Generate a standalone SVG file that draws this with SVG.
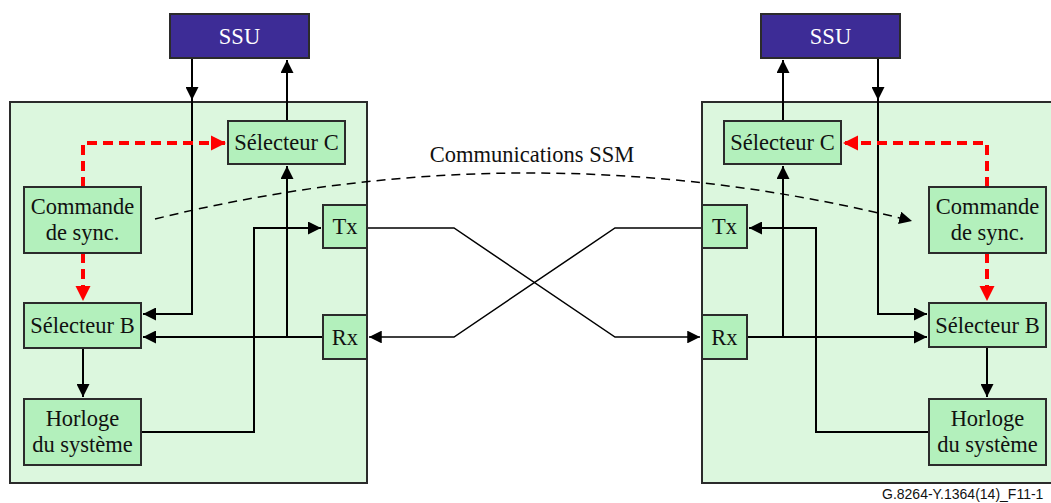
<svg xmlns="http://www.w3.org/2000/svg" width="1051" height="503" viewBox="0 0 1051 503">
<defs>
<style>
.outer{fill:#dcf7de;stroke:#2b2b2b;stroke-width:2}
.box{fill:#b3f0bc;stroke:#2b2b2b;stroke-width:2}
.ssu{fill:#3d2c96;stroke:#2b2b2b;stroke-width:2}
.t{font-family:'Liberation Serif','Times New Roman',serif;font-size:22.5px;fill:#111;text-anchor:middle}
.tw{fill:#ffffff}
.ln{fill:none;stroke:#000;stroke-width:2}
.thin{fill:none;stroke:#000;stroke-width:1.5}
.red{fill:none;stroke:#ff0000;stroke-width:4;stroke-dasharray:10,6}
.dash{fill:none;stroke:#000;stroke-width:1.5;stroke-dasharray:9,6}
.foot{font-family:'Liberation Sans',Arial,sans-serif;font-size:14px;fill:#111}
</style>
<marker id="ah" viewBox="0 0 10 10" refX="10" refY="5" markerWidth="6.5" markerHeight="6.5" orient="auto" markerUnits="strokeWidth"><path d="M0,0 L10,5 L0,10 z" fill="#000"/></marker>
<marker id="ahs" viewBox="0 0 10 10" refX="10" refY="5" markerWidth="8.5" markerHeight="8.5" orient="auto" markerUnits="strokeWidth"><path d="M0,0 L10,5 L0,10 z" fill="#000"/></marker>
<marker id="ahr" viewBox="0 0 10 10" refX="10" refY="5" markerWidth="3.8" markerHeight="3.8" orient="auto" markerUnits="strokeWidth"><path d="M0,0 L10,5 L0,10 z" fill="#ff0000"/></marker>
</defs>

<g id="equip-left"><rect class="outer" x="10" y="102" width="357" height="381"/></g>
<g id="equip-right"><rect class="outer" x="702" y="102" width="360" height="381"/></g>

<g id="connectors">
<path class="ln" d="M192,58 V100" marker-end="url(#ah)"/>
<path class="ln" d="M192,100 V314 H143" marker-end="url(#ah)"/>
<path class="ln" d="M287,121 V60" marker-end="url(#ah)"/>
<path class="ln" d="M287,337 V166" marker-end="url(#ah)"/>
<path class="ln" d="M323,337 H143" marker-end="url(#ah)"/>
<path class="ln" d="M141,432 H254 V228 H321" marker-end="url(#ah)"/>
<path class="ln" d="M83,348 V397" marker-end="url(#ah)"/>
<path class="red" d="M83,187 V143 H226" marker-end="url(#ahr)"/>
<path class="red" d="M83,253 V301" marker-end="url(#ahr)"/>
<path class="ln" d="M878,58 V100" marker-end="url(#ah)"/>
<path class="ln" d="M878,100 V314 H927" marker-end="url(#ah)"/>
<path class="ln" d="M783,121 V60" marker-end="url(#ah)"/>
<path class="ln" d="M783,337 V166" marker-end="url(#ah)"/>
<path class="ln" d="M747,337 H927" marker-end="url(#ah)"/>
<path class="ln" d="M929,432 H816 V228 H749" marker-end="url(#ah)"/>
<path class="ln" d="M987,347 V397" marker-end="url(#ah)"/>
<path class="red" d="M987,187 V143 H843" marker-end="url(#ahr)"/>
<path class="red" d="M987,253 V301" marker-end="url(#ahr)"/>
<path class="thin" d="M367,228 H454 L615,337 H700" marker-end="url(#ahs)"/>
<path class="thin" d="M702,228 H615 L454,337 H369" marker-end="url(#ahs)"/>
<path class="dash" d="M155,219 Q533,126 912,221" marker-end="url(#ahs)"/>
</g>

<g font-family="'Liberation Serif', 'Times New Roman', serif">
<text class="t" x="532" y="162">Communications SSM</text>

<g id="ssu-left"><rect class="ssu" x="170" y="14" width="139" height="44"/><text class="t tw" x="239.5" y="44">SSU</text></g>
<g id="selC-left"><rect class="box" x="228" y="121" width="117" height="43"/><text class="t" x="286.5" y="150">Sélecteur C</text></g>
<g id="cmd-left"><rect class="box" x="24" y="187" width="117" height="66"/><text class="t" x="82.5" y="214">Commande</text><text class="t" x="82.5" y="240">de sync.</text></g>
<g id="tx-left"><rect class="box" x="323" y="205" width="44" height="43"/><text class="t" x="345" y="234">Tx</text></g>
<g id="rx-left"><rect class="box" x="323" y="315" width="44" height="44"/><text class="t" x="345" y="345">Rx</text></g>
<g id="selB-left"><rect class="box" x="24" y="303" width="117" height="45"/><text class="t" x="82.5" y="333">Sélecteur B</text></g>
<g id="clk-left"><rect class="box" x="24" y="399" width="117" height="66"/><text class="t" x="82.5" y="426">Horloge</text><text class="t" x="82.5" y="452">du système</text></g>

<g id="ssu-right"><rect class="ssu" x="761" y="14" width="139" height="44"/><text class="t tw" x="830.5" y="44">SSU</text></g>
<g id="selC-right"><rect class="box" x="724" y="121" width="117" height="43"/><text class="t" x="782.5" y="150">Sélecteur C</text></g>
<g id="cmd-right"><rect class="box" x="929" y="187" width="117" height="66"/><text class="t" x="987.5" y="214">Commande</text><text class="t" x="987.5" y="240">de sync.</text></g>
<g id="tx-right"><rect class="box" x="702" y="205" width="45" height="43"/><text class="t" x="724.5" y="234">Tx</text></g>
<g id="rx-right"><rect class="box" x="702" y="315" width="45" height="44"/><text class="t" x="724.5" y="345">Rx</text></g>
<g id="selB-right"><rect class="box" x="929" y="303" width="117" height="44"/><text class="t" x="987.5" y="333">Sélecteur B</text></g>
<g id="clk-right"><rect class="box" x="929" y="399" width="117" height="66"/><text class="t" x="987.5" y="426">Horloge</text><text class="t" x="987.5" y="452">du système</text></g>
</g>

<text class="foot" x="882" y="499">G.8264-Y.1364(14)_F11-1</text>
</svg>
